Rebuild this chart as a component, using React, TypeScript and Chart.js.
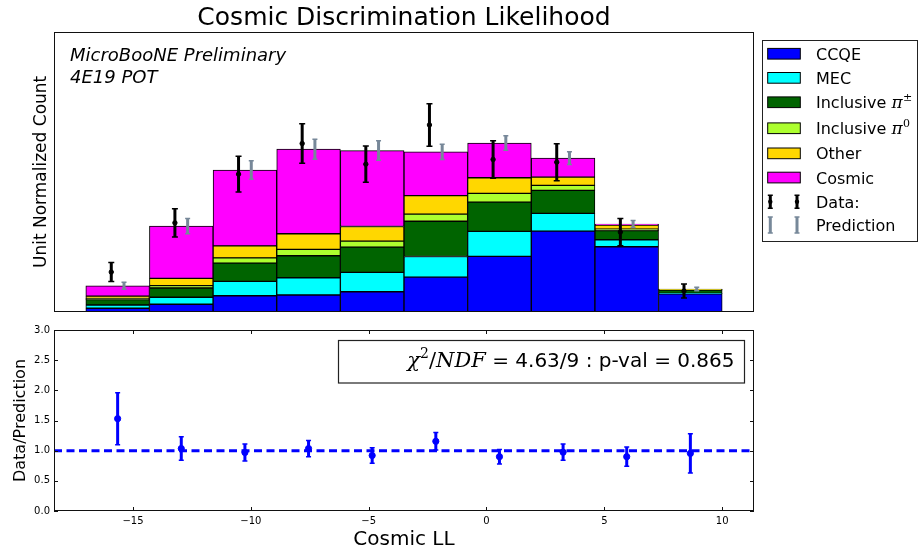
import { useEffect, useRef } from 'react';
import { Chart, registerables } from 'chart.js';

Chart.register(...registerables);

// ---------- data ----------
const binCenters = [-15.65, -12.95, -10.25, -7.55, -4.85, -2.15, 0.55, 3.25, 5.95, 8.65];
const xMin = -18.35;
const xMax = 11.35;
const xTickValues = [-15, -10, -5, 0, 5, 10];
const ratioTickValues = [0, 0.5, 1.0, 1.5, 2.0, 2.5, 3.0];

const ccqe = [0.0032, 0.0066, 0.0139, 0.0145, 0.0173, 0.0298, 0.0475, 0.0691, 0.0557, 0.0156];
const mec = [0.0028, 0.006, 0.0122, 0.0147, 0.0165, 0.0176, 0.0213, 0.0151, 0.006, 0.0003];
const inclPiPM = [0.0045, 0.0079, 0.0156, 0.0188, 0.0216, 0.0301, 0.025, 0.0196, 0.0077, 0.0028];
const inclPi0 = [0.0011, 0.002, 0.0045, 0.0054, 0.0051, 0.006, 0.0074, 0.0043, 0.0014, 0.0003];
const other = [0.002, 0.0062, 0.0102, 0.0134, 0.0125, 0.0159, 0.0134, 0.0071, 0.0034, 0.0003];
const cosmic = [0.0088, 0.0446, 0.0648, 0.0722, 0.0648, 0.0373, 0.0296, 0.0162, 0.0009, 0.0003];

const dataCounts = [0.0341, 0.0761, 0.1177, 0.1438, 0.1262, 0.1597, 0.1302, 0.1279, 0.0682, 0.0179];
const dataErr = [0.0081, 0.0121, 0.0152, 0.0169, 0.0155, 0.0181, 0.016, 0.0158, 0.0117, 0.006];
const predErr = [0.003, 0.0066, 0.0079, 0.0085, 0.0083, 0.0066, 0.0062, 0.0055, 0.003, 0.0015];

const ratio = [1.53, 1.035, 0.97, 1.035, 0.92, 1.155, 0.9, 0.975, 0.9, 0.955];
const ratioErr = [0.43, 0.195, 0.14, 0.135, 0.13, 0.145, 0.12, 0.135, 0.16, 0.325];

const chi2 = 4.63;
const ndf = 9;
const pValue = 0.865;

const countMax = 0.2392;

// ---------- style ----------
const SANS = "'DejaVu Sans', sans-serif";
const SERIF = "'DejaVu Serif', serif";
const pointShift = 0.27;

const series = [
  { label: 'CCQE', values: ccqe, color: '#0000ff' },
  { label: 'MEC', values: mec, color: '#00ffff' },
  { label: 'Inclusive π±', values: inclPiPM, color: '#006400' },
  { label: 'Inclusive π0', values: inclPi0, color: '#adff2f' },
  { label: 'Other', values: other, color: '#ffd700' },
  { label: 'Cosmic', values: cosmic, color: '#ff00ff' },
];

const predTotals = binCenters.map((_, i) => series.reduce((s, d) => s + d.values[i], 0));

Chart.defaults.font.family = SANS;
Chart.defaults.color = '#000';

function drawErrorBars(chart: any, dsIndex: number, errors: number[], color: string, width: number, cap: number) {
  const ctx = chart.ctx;
  const meta = chart.getDatasetMeta(dsIndex);
  const ds = chart.data.datasets[dsIndex];
  const yScale = chart.scales[meta.yAxisID];
  ctx.save();
  ctx.strokeStyle = color;
  meta.data.forEach((el: any, i: number) => {
    const v = ds.data[i].y;
    const e = errors[i];
    const x = el.x;
    const yHi = yScale.getPixelForValue(v + e);
    const yLo = yScale.getPixelForValue(v - e);
    ctx.lineWidth = width;
    ctx.beginPath();
    ctx.moveTo(x, yLo);
    ctx.lineTo(x, yHi);
    ctx.stroke();
    ctx.lineWidth = 1.5;
    ctx.beginPath();
    ctx.moveTo(x - cap, yHi);
    ctx.lineTo(x + cap, yHi);
    ctx.moveTo(x - cap, yLo);
    ctx.lineTo(x + cap, yLo);
    ctx.stroke();
  });
  ctx.restore();
}

function drawFrame(chart: any) {
  const { ctx, chartArea: a } = chart;
  ctx.save();
  ctx.strokeStyle = '#111';
  ctx.lineWidth = 1;
  const l = Math.round(a.left) + 0.5;
  const t = Math.round(a.top) + 0.5;
  const r = Math.round(a.right) - 0.5;
  const b = Math.round(a.bottom) - 0.5;
  ctx.strokeRect(l, t, r - l, b - t);
  ctx.restore();
}

function drawLabelWithPi(ctx: any, label: string, x: number, y: number) {
  const m = label.match(/^(.*)π(.)$/);
  ctx.font = `16px ${SANS}`;
  ctx.textBaseline = 'alphabetic';
  ctx.textAlign = 'left';
  if (!m) {
    ctx.fillText(label, x, y);
    return;
  }
  ctx.fillText(m[1], x, y);
  let cx = x + ctx.measureText(m[1]).width;
  ctx.font = `italic 17px ${SERIF}`;
  ctx.fillText('π', cx, y);
  cx += ctx.measureText('π').width + 0.5;
  ctx.font = `11px ${SERIF}`;
  ctx.fillText(m[2], cx, y - 7);
}

function topConfig(): any {
  const barSets = series.map((s) => ({
    type: 'bar',
    label: s.label,
    data: s.values.map((v, i) => ({ x: binCenters[i], y: v })),
    backgroundColor: s.color,
    borderColor: '#000',
    borderWidth: 1,
    borderSkipped: false,
    barPercentage: 1,
    categoryPercentage: 1,
    yAxisID: 'y',
    order: 10,
  }));
  const dataSet = {
    type: 'scatter',
    label: 'Data:',
    data: dataCounts.map((v, i) => ({ x: binCenters[i] - pointShift, y: v })),
    backgroundColor: '#000',
    borderColor: '#000',
    pointRadius: 2.2,
    yAxisID: 'yd',
    order: 1,
  };
  const predSet = {
    type: 'scatter',
    label: 'Prediction',
    data: predTotals.map((v, i) => ({ x: binCenters[i] + pointShift, y: v })),
    backgroundColor: '#778899',
    borderColor: '#778899',
    pointRadius: 0,
    yAxisID: 'yd',
    order: 2,
  };
  const dataIdx = barSets.length;
  const predIdx = barSets.length + 1;

  const overlay = {
    id: 'topOverlay',
    afterDatasetsDraw(chart: any) {
      drawErrorBars(chart, predIdx, predErr, '#778899', 3, 2.5);
      drawErrorBars(chart, dataIdx, dataErr, '#000', 3, 3);
    },
    afterDraw(chart: any) {
      const { ctx, chartArea: a } = chart;
      drawFrame(chart);
      ctx.save();
      ctx.fillStyle = '#000';
      ctx.font = `italic 18px ${SANS}`;
      ctx.textAlign = 'left';
      ctx.textBaseline = 'alphabetic';
      ctx.fillText('MicroBooNE Preliminary', a.left + 16, a.top + 29.5);
      ctx.fillText('4E19 POT', a.left + 16, a.top + 51.5);

      // legend
      const lx = Math.round(a.right) + 8.5;
      const ly = 40.5;
      ctx.fillStyle = '#fff';
      ctx.fillRect(lx, ly, 155, 201);
      ctx.strokeStyle = '#222';
      ctx.lineWidth = 1;
      ctx.strokeRect(lx, ly, 155, 201);
      const rows = [13.2, 37.3, 61.7, 87.7, 112.8, 137, 161.2, 184.5];
      series.forEach((s, i) => {
        const cy = ly + rows[i];
        ctx.fillStyle = s.color;
        ctx.fillRect(lx + 5.2, cy - 5.3, 32.6, 10.7);
        ctx.strokeStyle = '#000';
        ctx.strokeRect(lx + 5.2, cy - 5.3, 32.6, 10.7);
        ctx.fillStyle = '#000';
        drawLabelWithPi(ctx, s.label, lx + 53.5, cy + 6);
      });
      const glyph = (cy: number, color: string, half: number, dot: boolean) => {
        [lx + 7.8, lx + 34.5].forEach((gx) => {
          ctx.strokeStyle = color;
          ctx.lineWidth = 3;
          ctx.beginPath();
          ctx.moveTo(gx, cy - half);
          ctx.lineTo(gx, cy + half);
          ctx.stroke();
          ctx.lineWidth = 1.5;
          ctx.beginPath();
          ctx.moveTo(gx - 2.5, cy - half);
          ctx.lineTo(gx + 2.5, cy - half);
          ctx.moveTo(gx - 2.5, cy + half);
          ctx.lineTo(gx + 2.5, cy + half);
          ctx.stroke();
          if (dot) {
            ctx.fillStyle = color;
            ctx.beginPath();
            ctx.arc(gx, cy, 2.2, 0, Math.PI * 2);
            ctx.fill();
          }
        });
      };
      glyph(ly + rows[6], '#000', 6.5, true);
      glyph(ly + rows[7], '#778899', 8, false);
      ctx.fillStyle = '#000';
      drawLabelWithPi(ctx, dataSet.label, lx + 53.5, ly + rows[6] + 6);
      drawLabelWithPi(ctx, predSet.label, lx + 53.5, ly + rows[7] + 6);
      ctx.restore();
    },
  };

  return {
    data: { datasets: [...barSets, dataSet, predSet] },
    options: {
      responsive: false,
      animation: false,
      devicePixelRatio: 1,
      events: [],
      layout: { padding: { left: 0, right: 165, top: 0, bottom: 8 } },
      plugins: {
        legend: { display: false },
        tooltip: { enabled: false },
        title: {
          display: true,
          text: 'Cosmic Discrimination Likelihood',
          color: '#000',
          fullSize: false,
          font: { size: 25, family: SANS, weight: 'normal', lineHeight: 1.08 },
          padding: { top: 4.8, bottom: 0 },
        },
      },
      scales: {
        x: {
          type: 'linear',
          min: xMin,
          max: xMax,
          offset: false,
          stacked: true,
          display: false,
          afterBuildTicks: (s: any) => {
            s.ticks = xTickValues.map((v) => ({ value: v }));
          },
        },
        y: {
          type: 'linear',
          min: 0,
          max: countMax,
          stacked: true,
          grid: { display: false, drawTicks: false },
          border: { display: false },
          ticks: { display: false },
          title: {
            display: true,
            text: 'Unit Normalized Count',
            color: '#000',
            font: { size: 17, family: SANS },
            padding: { top: 31.5, bottom: 0 },
          },
          afterFit: (s: any) => {
            s.width = 54;
          },
        },
        yd: {
          type: 'linear',
          min: 0,
          max: countMax,
          stacked: false,
          display: false,
        },
      },
    },
    plugins: [overlay],
  };
}

function bottomConfig(): any {
  const ratioSet = {
    type: 'scatter',
    label: 'Data/Prediction',
    data: ratio.map((v, i) => ({ x: binCenters[i], y: v })),
    backgroundColor: '#0000ff',
    borderColor: '#0000ff',
    pointRadius: 3.1,
    order: 1,
  };
  const unitySet = {
    type: 'line',
    label: 'Unity',
    data: [
      { x: xMin, y: 1 },
      { x: xMax, y: 1 },
    ],
    borderColor: '#0000ff',
    borderWidth: 3,
    borderDash: [8, 4.5],
    pointRadius: 0,
    fill: false,
    order: 2,
  };

  const overlay = {
    id: 'bottomOverlay',
    afterDatasetsDraw(chart: any) {
      drawErrorBars(chart, 0, ratioErr, '#0000ff', 3, 2.5);
    },
    afterDraw(chart: any) {
      const { ctx, chartArea: a, scales } = chart;
      drawFrame(chart);
      ctx.save();
      ctx.strokeStyle = '#111';
      ctx.lineWidth = 1;
      ctx.beginPath();
      xTickValues.forEach((v) => {
        const px = Math.round(scales.x.getPixelForValue(v)) + 0.5;
        ctx.moveTo(px, a.bottom);
        ctx.lineTo(px, a.bottom - 4);
        ctx.moveTo(px, a.top);
        ctx.lineTo(px, a.top + 4);
      });
      ratioTickValues.forEach((v) => {
        const py = Math.round(scales.y.getPixelForValue(v)) + 0.5;
        ctx.moveTo(a.left, py);
        ctx.lineTo(a.left + 4, py);
        ctx.moveTo(a.right, py);
        ctx.lineTo(a.right - 4, py);
      });
      ctx.stroke();

      // chi2 box
      const bx1 = Math.round(a.right) - 9.5;
      const bx0 = Math.round(a.left) + 284.5;
      const by0 = Math.round(a.top) + 10.5;
      const bh = 42.5;
      ctx.fillStyle = '#fff';
      ctx.fillRect(bx0, by0, bx1 - bx0, bh);
      ctx.strokeStyle = '#222';
      ctx.lineWidth = 1.2;
      ctx.strokeRect(bx0, by0, bx1 - bx0, bh);

      const pieces = [
        { t: 'χ', f: `italic 21px ${SERIF}`, dy: 0 },
        { t: '2', f: `14px ${SERIF}`, dy: -9 },
        { t: '/', f: `21px ${SERIF}`, dy: 0 },
        { t: 'NDF', f: `italic 21px ${SERIF}`, dy: 0 },
        { t: ` = ${chi2.toFixed(2)}/${ndf} : p-val = ${pValue}`, f: `20px ${SANS}`, dy: 0 },
      ];
      let total = 0;
      const widths = pieces.map((p) => {
        ctx.font = p.f;
        const w = ctx.measureText(p.t).width;
        total += w;
        return w;
      });
      let cx = bx1 - 10 - total;
      const base = by0 + 26;
      ctx.fillStyle = '#000';
      ctx.textAlign = 'left';
      ctx.textBaseline = 'alphabetic';
      pieces.forEach((p, i) => {
        ctx.font = p.f;
        ctx.fillText(p.t, cx, base + p.dy);
        cx += widths[i];
      });
      ctx.restore();
    },
  };

  const fmtX = (v: number) => (v < 0 ? '\u2212' + Math.abs(v) : String(v));

  return {
    data: { datasets: [ratioSet, unitySet] },
    options: {
      responsive: false,
      animation: false,
      devicePixelRatio: 1,
      events: [],
      layout: { padding: { left: 0, right: 165, top: 9, bottom: 0 } },
      plugins: {
        legend: { display: false },
        tooltip: { enabled: false },
      },
      scales: {
        x: {
          type: 'linear',
          min: xMin,
          max: xMax,
          grid: { display: false, drawTicks: false },
          border: { display: false },
          afterBuildTicks: (s: any) => {
            s.ticks = xTickValues.map((v) => ({ value: v }));
          },
          ticks: {
            callback: (v: any) => fmtX(Number(v)),
            font: { size: 10, family: SANS },
            color: '#000',
            padding: 4,
            maxRotation: 0,
            autoSkip: false,
          },
          title: {
            display: true,
            text: 'Cosmic LL',
            color: '#000',
            font: { size: 20, family: SANS },
            padding: { top: 0, bottom: 4.2 },
          },
          afterFit: (s: any) => {
            s.height = 45;
          },
        },
        y: {
          type: 'linear',
          min: 0,
          max: 3,
          grid: { display: false, drawTicks: false },
          border: { display: false },
          afterBuildTicks: (s: any) => {
            s.ticks = ratioTickValues.map((v) => ({ value: v }));
          },
          ticks: {
            callback: (v: any) => Number(v).toFixed(1),
            font: { size: 10, family: SANS },
            color: '#000',
            padding: 4,
            autoSkip: false,
          },
          title: {
            display: true,
            text: 'Data/Prediction',
            color: '#000',
            font: { size: 16, family: SANS },
            padding: { top: 11.6, bottom: 0 },
          },
          afterFit: (s: any) => {
            s.width = 54;
          },
        },
      },
    },
    plugins: [overlay],
  };
}

export default function App() {
  const topRef = useRef<HTMLCanvasElement>(null);
  const botRef = useRef<HTMLCanvasElement>(null);
  useEffect(() => {
    const top = new Chart(topRef.current as HTMLCanvasElement, topConfig());
    const bot = new Chart(botRef.current as HTMLCanvasElement, bottomConfig());
    return () => {
      top.destroy();
      bot.destroy();
    };
  }, []);
  return (
    <div style={{ position: 'absolute', left: 0, top: 0, width: 919, height: 556, background: '#fff', overflow: 'hidden' }}>
      <canvas ref={topRef} width={919} height={320} style={{ position: 'absolute', left: 0, top: 0 }} />
      <canvas ref={botRef} width={919} height={236} style={{ position: 'absolute', left: 0, top: 320 }} />
    </div>
  );
}
